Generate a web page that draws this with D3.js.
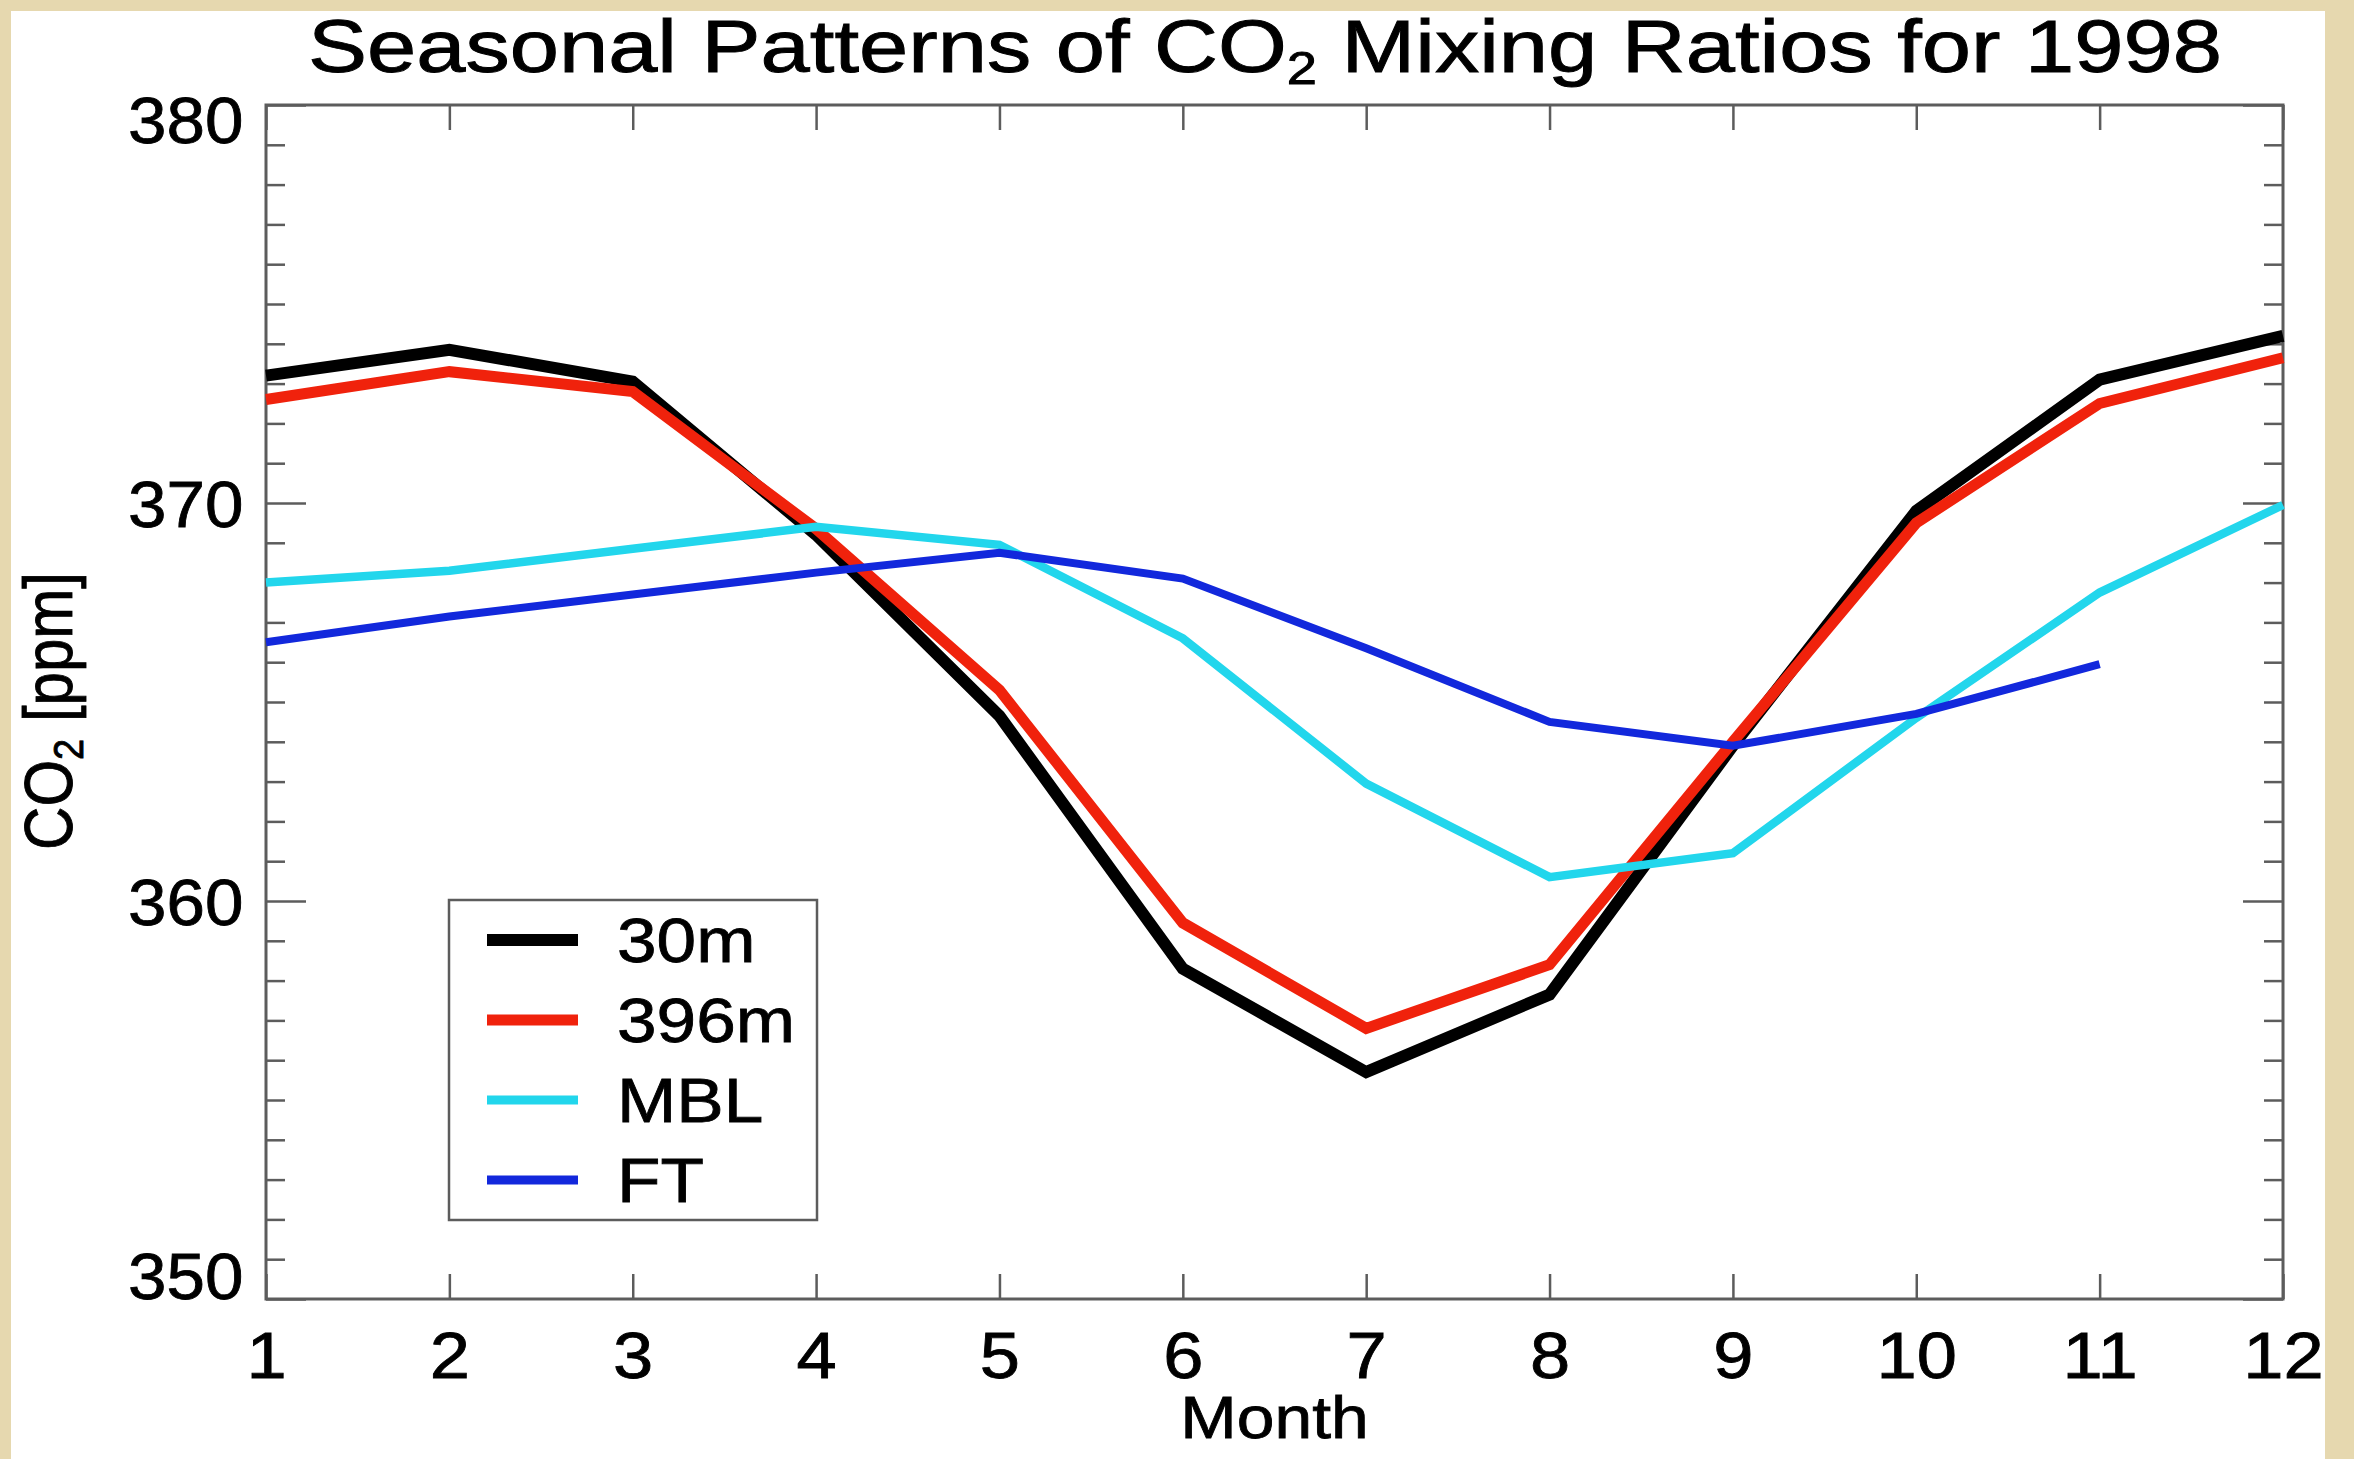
<!DOCTYPE html>
<html>
<head>
<meta charset="utf-8">
<script src="https://cdn.jsdelivr.net/npm/d3@7"></script>
<style>
  html, body { margin: 0; padding: 0; background: #e6d8af; }
  svg { display: block; }
</style>
</head>
<body>
<div id="chart"></div>
<script>
// monthly means
const months = [1, 2, 3, 4, 5, 6, 7, 8, 9, 10, 11, 12];
const co2_30m  = [373.2, 373.85, 373.05, 369.2, 364.65, 358.3, 355.7, 357.65, 363.9, 369.8, 373.1, 374.2];
const co2_396m = [372.6, 373.3, 372.8, 369.35, 365.3, 359.45, 356.8, 358.4, 364.0, 369.5, 372.5, 373.65];
const co2_mbl  = [368.0, 368.3, 368.85, 369.4, 368.95, 366.6, 362.95, 360.6, 361.2, 364.6, 367.75, 369.95];
const co2_ft   = [366.5, 367.15, 367.7, 368.25, 368.75, 368.1, 366.35, 364.5, 363.9, 364.7, 365.95];
const seriesNames = ["30m", "396m", "MBL", "FT"];
const yMajor = [350, 360, 370, 380];

const W = 2354, H = 1459;
const margin = { top: 105, right: 71, bottom: 160, left: 266 };
const width = W - margin.left - margin.right;
const height = H - margin.top - margin.bottom;
const font = "'Liberation Sans', Arial, Helvetica, sans-serif";
const stretch = 1.13;   // the source image is a bit wide

const series = [
  { name: seriesNames[0], values: co2_30m,  color: "#000000", w: 12 },
  { name: seriesNames[1], values: co2_396m, color: "#f0220c", w: 11 },
  { name: seriesNames[2], values: co2_mbl,  color: "#22d6ec", w: 8.5 },
  { name: seriesNames[3], values: co2_ft,   color: "#1228dc", w: 8 }
];

const svg = d3.select("#chart").append("svg")
  .attr("width", W).attr("height", H);

// white panel on the beige page
svg.append("rect")
  .attr("x", 11).attr("y", 11)
  .attr("width", 2314).attr("height", H - 11)
  .attr("fill", "#ffffff");

const g = svg.append("g")
  .attr("transform", `translate(${margin.left},${margin.top})`);

const x = d3.scaleLinear().domain([1, 12]).range([0, width]);
const y = d3.scaleLinear().domain([350, 380]).range([height, 0]);

const minor = d3.range(351, 380).filter(v => v % 10 !== 0);
const axisColor = "#5c5c5c";

function styleAxis(sel) {
  sel.select(".domain").remove();
  sel.selectAll(".tick line").attr("stroke", axisColor).attr("stroke-width", 2.5);
  sel.attr("font-family", font).attr("font-size", 64);
  sel.selectAll("text").attr("fill", "#000").attr("stroke", "#000").attr("stroke-width", 0.8);
}

// bottom axis with month labels
const xb = g.append("g").attr("transform", `translate(0,${height})`)
  .call(d3.axisBottom(x).tickValues(months).tickSizeInner(-25).tickSizeOuter(0).tickPadding(34).tickFormat(d3.format("d")))
  .call(styleAxis);
xb.selectAll("text").attr("transform", `scale(${stretch},1)`);

g.append("g")
  .call(d3.axisTop(x).tickValues(months).tickSizeInner(-25).tickSizeOuter(0).tickFormat(""))
  .call(styleAxis);

// left axis: major with labels, minor without
const yl = g.append("g")
  .call(d3.axisLeft(y).tickValues(yMajor).tickSizeInner(-40).tickSizeOuter(0).tickPadding(21).tickFormat(d3.format("d")))
  .call(styleAxis);
yl.selectAll("text")
  .attr("dy", "0.36em")
  .attr("y", d => {
    const c = Math.max(y.range()[1] + 14, Math.min(y.range()[0] - 24, y(d)));
    return c - y(d);
  })
  .attr("transform", `scale(1.08,1)`);

g.append("g")
  .call(d3.axisLeft(y).tickValues(minor).tickSizeInner(-19).tickSizeOuter(0).tickFormat(""))
  .call(styleAxis);

g.append("g").attr("transform", `translate(${width},0)`)
  .call(d3.axisRight(y).tickValues(yMajor).tickSizeInner(-40).tickSizeOuter(0).tickFormat(""))
  .call(styleAxis);
g.append("g").attr("transform", `translate(${width},0)`)
  .call(d3.axisRight(y).tickValues(minor).tickSizeInner(-19).tickSizeOuter(0).tickFormat(""))
  .call(styleAxis);

// plot frame
g.append("rect")
  .attr("width", width).attr("height", height)
  .attr("fill", "none").attr("stroke", axisColor).attr("stroke-width", 3);

// the series
const line = d3.line()
  .x((d, i) => x(months[i]))
  .y(d => y(d));

g.selectAll(".series").data(series).join("path")
  .attr("class", "series")
  .attr("d", d => line(d.values))
  .attr("fill", "none")
  .attr("stroke", d => d.color)
  .attr("stroke-width", d => d.w)
  .attr("stroke-linejoin", "miter");

// title
const title = svg.append("text")
  .attr("transform", `translate(1265,72) scale(1.18,1)`)
  .attr("text-anchor", "middle")
  .attr("font-family", font).attr("font-size", 75).attr("fill", "#000")
  .attr("stroke", "#000").attr("stroke-width", 0.9);
title.append("tspan").text("Seasonal Patterns of CO");
title.append("tspan").attr("font-size", 46).attr("dy", 12).text("2");
title.append("tspan").attr("dy", -12).text(" Mixing Ratios for 1998");

// axis titles
svg.append("text")
  .attr("transform", `translate(${margin.left + width / 2},1438) scale(${stretch},1)`)
  .attr("text-anchor", "middle")
  .attr("font-family", font).attr("font-size", 60).attr("fill", "#000")
  .attr("stroke", "#000").attr("stroke-width", 0.8)
  .text("Month");

const ylab = svg.append("text")
  .attr("transform", `translate(72,${margin.top + height / 2 + 9}) scale(${stretch},1) rotate(-90)`)
  .attr("text-anchor", "middle")
  .attr("font-family", font).attr("font-size", 60).attr("fill", "#000")
  .attr("stroke", "#000").attr("stroke-width", 0.8);
ylab.append("tspan").text("CO");
ylab.append("tspan").attr("font-size", 38).attr("dy", 10).text("2");
ylab.append("tspan").attr("dy", -10).text(" [ppm]");

// legend
const lg = svg.append("g").attr("transform", "translate(449,900)");
lg.append("rect")
  .attr("width", 368).attr("height", 320)
  .attr("fill", "#fff").attr("stroke", axisColor).attr("stroke-width", 2.5);

const items = lg.selectAll(".item").data(series).join("g")
  .attr("class", "item")
  .attr("transform", (d, i) => `translate(0,${40 + i * 80})`);
items.append("line")
  .attr("x1", 38).attr("x2", 129)
  .attr("stroke", d => d.color)
  .attr("stroke-width", d => Math.max(d.w, 9));
items.append("text")
  .attr("transform", `translate(168,22) scale(${stretch},1)`)
  .attr("font-family", font).attr("font-size", 63).attr("fill", "#000")
  .attr("stroke", "#000").attr("stroke-width", 0.8)
  .text(d => d.name);
</script>
</body>
</html>
